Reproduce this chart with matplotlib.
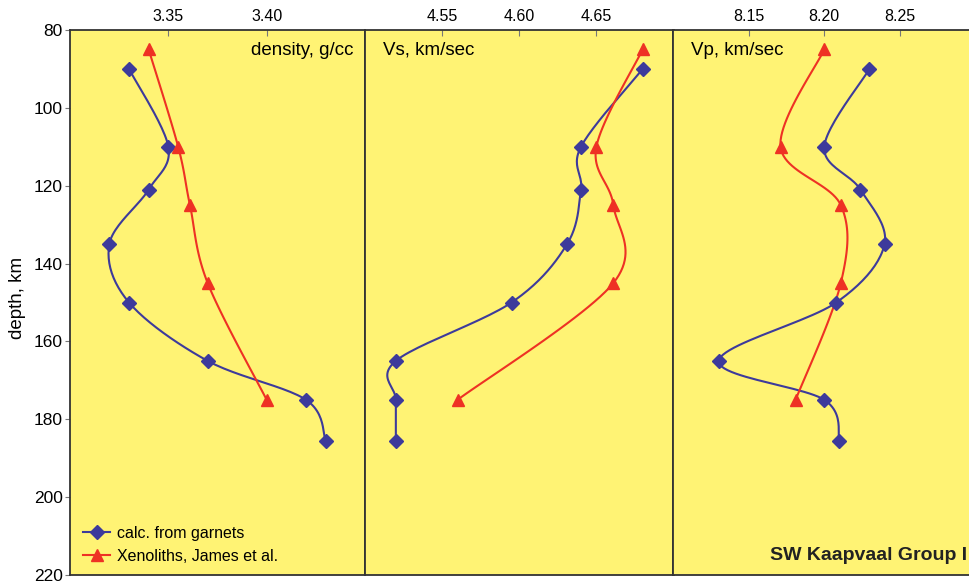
import numpy as np
import matplotlib.pyplot as plt
from matplotlib.lines import Line2D

plt.rcParams["font.family"] = ["Liberation Sans", "DejaVu Sans"]

# depths (km) of the two data sets
depth_calc = [90, 110, 121, 135, 150, 165, 175, 185.5]
depth_xeno = [85, 110, 125, 145, 175]

# calc. from garnets
dens_calc = [3.330, 3.350, 3.340, 3.320, 3.330, 3.370, 3.420, 3.430]
vs_calc = [4.680, 4.640, 4.640, 4.631, 4.595, 4.520, 4.520, 4.520]
vp_calc = [8.230, 8.200, 8.224, 8.240, 8.208, 8.130, 8.200, 8.210]

# Xenoliths, James et al.
dens_xeno = [3.340, 3.355, 3.361, 3.370, 3.400]
vs_xeno = [4.680, 4.650, 4.661, 4.661, 4.560]
vp_xeno = [8.200, 8.171, 8.211, 8.211, 8.181]

panel_labels = ["density, g/cc", "Vs, km/sec", "Vp, km/sec"]
panel_ticks = [[3.35, 3.40], [4.55, 4.60, 4.65], [8.15, 8.20, 8.25]]
panel_lims = [(3.30, 3.45), (4.50, 4.70), (8.10, 8.30)]
depth_ticks = [80, 100, 120, 140, 160, 180, 200, 220]

blue = "#3d3a9b"
red = "#ee3124"
yellow = "#fff374"
frame = "#333333"


def smooth(ax, x, y, n=25):
    # excel-like bezier smoothing, done in screen space
    pts = ax.transData.transform(np.column_stack([x, y]))
    P = np.vstack([pts[0], pts, pts[-1]])
    t = np.linspace(0, 1, n)[:, None]
    segs = []
    for i in range(1, len(P) - 2):
        p0, p1, p2, p3 = P[i - 1], P[i], P[i + 1], P[i + 2]
        c1 = p1 + (p2 - p0) / 6
        c2 = p2 - (p3 - p1) / 6
        segs.append((1 - t) ** 3 * p1 + 3 * (1 - t) ** 2 * t * c1
                    + 3 * (1 - t) * t ** 2 * c2 + t ** 3 * p2)
    curve = ax.transData.inverted().transform(np.vstack(segs))
    return curve[:, 0], curve[:, 1]


fig = plt.figure(figsize=(9.7, 5.85), dpi=100)
W, H = 970, 585
top, bot = 30, 575
boxes = [(70, 365), (365, 673.5), (673.5, 975)]

series = [(dens_calc, dens_xeno), (vs_calc, vs_xeno), (vp_calc, vp_xeno)]
axes = []
for i, ((x0, x1), (calc, xeno)) in enumerate(zip(boxes, series)):
    ax = fig.add_axes([x0 / W, 1 - bot / H, (x1 - x0) / W, (bot - top) / H])
    ax.set_facecolor(yellow)
    ax.set_xlim(*panel_lims[i])
    ax.set_ylim(220, 80)
    ax.xaxis.tick_top()
    ax.set_xticks(panel_ticks[i])
    ax.set_xticklabels([f"{v:.2f}" for v in panel_ticks[i]])
    ax.tick_params(axis="x", direction="in", length=4, width=0.8,
                   color="#777777", labelsize=11.5, pad=4)
    ax.set_yticks(depth_ticks)
    if i == 0:
        ax.tick_params(axis="y", direction="out", length=3.6, width=0.8,
                       color="#777777", labelsize=12.5, pad=1.5)
        ax.set_ylabel("depth, km", fontsize=13.5)
        ax.yaxis.set_label_coords(-0.149, 0.508)
    else:
        ax.tick_params(axis="y", left=False, labelleft=False)
    for s in ax.spines.values():
        s.set_color(frame)
        s.set_linewidth(1.3)

    cx, cy = smooth(ax, calc, depth_calc)
    ax.plot(cx, cy, color=blue, lw=1.5, zorder=2)
    ax.plot(calc, depth_calc, "D", color=blue, ms=7.5, zorder=3)
    rx, ry = smooth(ax, xeno, depth_xeno)
    ax.plot(rx, ry, color=red, lw=1.5, zorder=2)
    ax.plot(xeno, depth_xeno, "^", color=red, ms=9, zorder=3)
    axes.append(ax)

axes[0].text(0.96, 0.963, panel_labels[0], transform=axes[0].transAxes,
             ha="right", va="center", fontsize=13.5)
for ax, lab in zip(axes[1:], panel_labels[1:]):
    ax.text(0.058, 0.963, lab, transform=ax.transAxes,
            ha="left", va="center", fontsize=13.5)

handles = [Line2D([], [], color=blue, lw=1.5, marker="D", ms=7.5),
           Line2D([], [], color=red, lw=1.5, marker="^", ms=9)]
axes[0].legend(handles, ["calc. from garnets", "Xenoliths, James et al."],
               loc="lower left", bbox_to_anchor=(0.006, 0.0), frameon=False,
               fontsize=11.5, handlelength=1.7, handletextpad=0.45,
               labelspacing=0.5, borderaxespad=0.3)

fig.text(967 / W, 1 - 555 / H, "SW Kaapvaal Group I", ha="right",
         va="center", fontsize=14, fontweight="bold", color="#222222")

fig.savefig("out.png", dpi=100)
